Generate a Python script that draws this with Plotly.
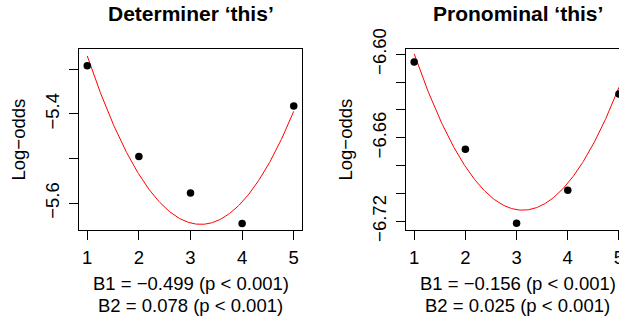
import numpy as np
import plotly.graph_objects as go

W, H = 619, 320

# ---- data ----
period = [1, 2, 3, 4, 5]
det_logodds = [-5.292, -5.495, -5.577, -5.645, -5.382]
pro_logodds = [-6.6055, -6.6683, -6.7214, -6.6977, -6.6285]
det_coef = [-4.849, -0.499, 0.078]     # B0, B1, B2 of quadratic fit
pro_coef = [-6.4687, -0.156, 0.025]
det_title = "Determiner ‘this’"
pro_title = "Pronominal ‘this’"
det_xlab = ["B1 = −0.499 (p < 0.001)", "B2 = 0.078 (p < 0.001)"]
pro_xlab = ["B1 = −0.156 (p < 0.001)", "B2 = 0.025 (p < 0.001)"]
ylab = "Log−odds"
x_ticks = [1, 2, 3, 4, 5]
det_yticks = [-5.3, -5.4, -5.5, -5.6]
det_yticktext = ["", "−5.4", "", "−5.6"]
pro_yticks = [-6.60, -6.62, -6.64, -6.66, -6.68, -6.70, -6.72]
pro_yticktext = ["−6.60", "", "", "−6.66", "", "", "−6.72"]

FONT = "Liberation Sans, Arial, Helvetica, sans-serif"
FS = 18.5

fig = go.Figure()

xs = np.linspace(period[0], period[-1], 300)
for i, (vals, coef) in enumerate([(det_logodds, det_coef), (pro_logodds, pro_coef)]):
    xa = "x" if i == 0 else "x2"
    ya = "y" if i == 0 else "y2"
    fit = coef[0] + coef[1] * xs + coef[2] * xs ** 2
    fig.add_trace(go.Scatter(x=xs, y=fit, mode="lines", line=dict(color="#ff0000", width=1),
                             xaxis=xa, yaxis=ya, showlegend=False, hoverinfo="skip"))
    fig.add_trace(go.Scatter(x=period, y=vals, mode="markers",
                             marker=dict(color="black", size=7.5, line=dict(width=0)),
                             xaxis=xa, yaxis=ya, showlegend=False, cliponaxis=False))

# pixel layout
L1, R1 = 79, 302
L2 = 406
TOP, BOT = 49, 230
ydom = [1 - BOT / H, 1 - TOP / H]

axis_common = dict(showgrid=False, zeroline=False, showline=True, linecolor="black", linewidth=1,
                   ticks="outside", ticklen=9, tickwidth=1, tickcolor="black", automargin=False,
                   tickfont=dict(family=FONT, size=FS, color="black"), fixedrange=True)

fig.update_layout(
    template="none",
    width=W, height=H, margin=dict(l=0, r=0, t=0, b=0, pad=0), autosize=False,
    paper_bgcolor="white", plot_bgcolor="white",
    font=dict(family=FONT, size=FS, color="black"),
    xaxis=dict(domain=[L1 / W, R1 / W], range=[0.84, 5.16], tickmode="array", tickvals=x_ticks,
               mirror=True, anchor="y", ticklabelstandoff=2, **axis_common),
    yaxis=dict(domain=ydom, range=[-5.6597, -5.2545], tickmode="array", tickvals=det_yticks,
               ticktext=det_yticktext, tickangle=-90, mirror=True, anchor="x",
               ticklabelstandoff=3, **axis_common),
    xaxis2=dict(domain=[L2 / W, 1.0], range=[0.84, 5.001], tickmode="array", tickvals=x_ticks,
                mirror=True, anchor="y2", ticklabelstandoff=2, ticklabeloverflow="allow",
                **axis_common),
    yaxis2=dict(domain=ydom, range=[-6.7263, -6.5962], tickmode="array", tickvals=pro_yticks,
                ticktext=pro_yticktext, tickangle=-90, mirror=False, anchor="x2",
                ticklabelstandoff=3, **axis_common),
)

anns = []
for left, right, title, xlab in [(L1, R1, det_title, det_xlab), (L2, L2 + (R1 - L1), pro_title, pro_xlab)]:
    cx = (left + right) / 2
    anns.append(dict(text="<b>" + title + "</b>", x=cx / W, y=1 - 13 / H, xref="paper", yref="paper",
                     xanchor="center", yanchor="middle", showarrow=False,
                     font=dict(family=FONT, size=21, color="black")))
    anns.append(dict(text=xlab[0], x=cx / W, y=1 - 283.5 / H, xref="paper", yref="paper",
                     xanchor="center", yanchor="middle", showarrow=False,
                     font=dict(family=FONT, size=FS, color="black")))
    anns.append(dict(text=xlab[1], x=cx / W, y=1 - 305 / H, xref="paper", yref="paper",
                     xanchor="center", yanchor="middle", showarrow=False,
                     font=dict(family=FONT, size=FS, color="black")))
    anns.append(dict(text=ylab, x=(left - 61) / W, y=1 - ((TOP + BOT) / 2) / H, xref="paper", yref="paper",
                     xanchor="center", yanchor="middle", textangle=-90, showarrow=False,
                     font=dict(family=FONT, size=FS, color="black")))
fig.update_layout(annotations=anns)

fig.write_html("out.html")
